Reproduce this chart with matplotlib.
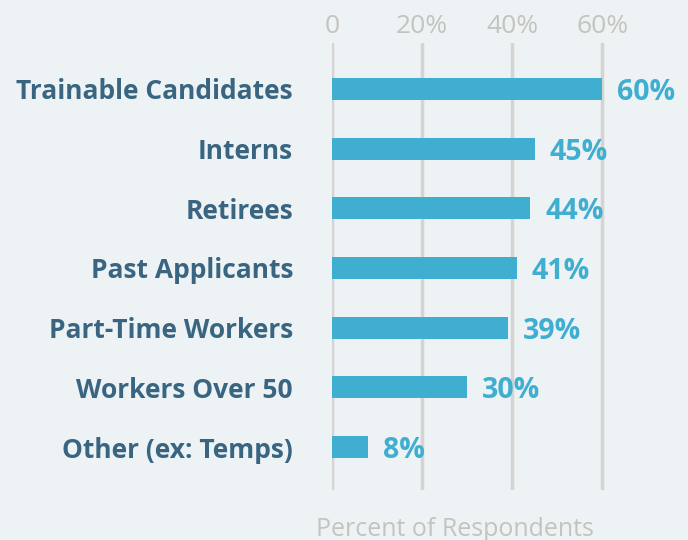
import matplotlib.pyplot as plt

categories = ['Trainable Candidates', 'Interns', 'Retirees', 'Past Applicants',
              'Part-Time Workers', 'Workers Over 50', 'Other (ex: Temps)']
values = [60, 45, 44, 41, 39, 30, 8]
ticks = [0, 20, 40, 60]
tick_labels = ['0', '20%', '40%', '60%']

bg = '#EDF2F5'
bar_color = '#3FAED0'
label_color = '#3A6581'
grid_color = '#D4D4D0'
light_text = '#C4C4BF'

plt.rcParams['font.family'] = ['Open Sans', 'DejaVu Sans']

fig = plt.figure(figsize=(6.88, 5.4), dpi=100, facecolor=bg)
ax = fig.add_axes([332 / 688, 1 - 490 / 540, 356 / 688, 447 / 540])
ax.set_facecolor(bg)

y = list(range(len(categories)))
ax.barh(y, values, height=0.37, color=bar_color, zorder=3)

for yi, v in zip(y, values):
    ax.text(v + 3.3, yi + 0.06, f'{v}%', color=bar_color, fontsize=20.5,
            fontweight='bold', va='center', ha='left', zorder=4)

ax.set_xlim(0, 79)
ax.set_ylim(6.72, -0.77)
ax.set_yticks(y)
ax.set_yticklabels(categories, fontsize=19, fontweight='bold', color=label_color)
ax.tick_params(axis='y', length=0, pad=28)

ax.xaxis.tick_top()
ax.set_xticks(ticks)
ax.set_xticklabels(tick_labels, fontsize=19, color=light_text)
ax.tick_params(axis='x', length=0, pad=3)

for t in ticks:
    ax.axvline(t, color=grid_color, linewidth=2.5, zorder=1)

for s in ax.spines.values():
    s.set_visible(False)

fig.text(455 / 688, 1 - 529 / 540, 'Percent of Respondents', fontsize=18,
         color=light_text, ha='center', va='center')

fig.savefig('out.png', dpi=100, facecolor=bg)
